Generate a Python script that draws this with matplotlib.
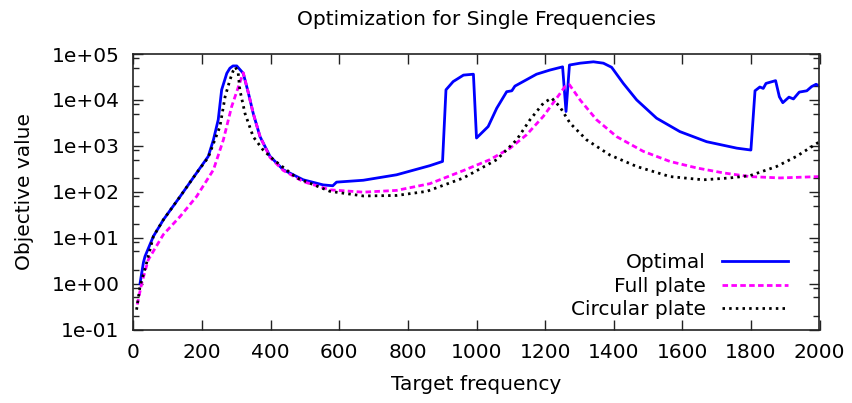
import numpy as np
import matplotlib
matplotlib.use('Agg')
import matplotlib.pyplot as plt
from matplotlib.ticker import LogLocator, FixedLocator, NullFormatter

# values
opt_f = [19, 29, 33.5, 58, 87, 136, 184, 218, 233, 247, 257, 272, 281, 290, 301, 320, 335, 349, 369, 398,
         437, 495, 553, 581, 592, 670, 767, 864, 901, 911, 932, 962, 991, 1000, 1034, 1059, 1088, 1103,
         1112, 1136, 1175, 1214, 1251, 1261, 1271, 1302, 1341, 1370, 1394, 1428, 1467, 1525, 1593, 1671,
         1759, 1800, 1812, 1826, 1836, 1844, 1872, 1883, 1893, 1911, 1924, 1941, 1963, 1977, 1990, 2000]
opt_v = [1.0, 2.9, 3.9, 10.7, 24.5, 79, 257, 590, 1350, 3700, 16600, 38000, 49000, 55000, 55000, 38000,
         14100, 5100, 1580, 590, 300, 182, 141, 135, 162, 178, 234, 370, 457, 16600, 25100, 34700, 36300,
         1480, 2630, 6600, 15100, 15800, 20000, 25100, 36300, 44700, 52500, 5600, 57500, 63100, 67600,
         63100, 51300, 22900, 10000, 4000, 2040, 1230, 890, 810, 15800, 19100, 17800, 22900, 26300, 11700,
         8700, 11500, 10500, 14800, 15800, 19500, 21900, 20000]

full_f = [11, 24, 43, 87, 136, 184, 233, 262, 286, 306, 320, 335, 349, 369, 398, 437, 495, 573, 670,
          767, 864, 962, 1039, 1098, 1146, 1195, 1234, 1258, 1271, 1302, 1350, 1409, 1486, 1564, 1642,
          1720, 1797, 1885, 2000]
full_v = [0.35, 1.02, 3.3, 11.7, 29, 79, 300, 1350, 7100, 19500, 39000, 14100, 5100, 1580, 560, 290, 166,
          110, 98, 107, 150, 290, 500, 890, 1740, 4400, 11000, 19500, 21400, 10000, 3700, 1580, 760, 457,
          330, 257, 214, 200, 214]

circ_f = [9, 19, 38, 58, 87, 136, 184, 218, 233, 252, 267, 281, 290, 297, 305, 310, 325, 349, 378, 408,
          476, 573, 670, 767, 855, 962, 1059, 1117, 1156, 1195, 1219, 1243, 1273, 1321, 1389, 1467, 1564,
          1661, 1739, 1797, 1875, 1933, 2000]
circ_v = [0.27, 0.87, 2.8, 10.7, 24.5, 79, 257, 560, 1120, 2630, 11700, 27000, 42000, 52000, 40000,
          16600, 5100, 1580, 810, 500, 200, 102, 81, 83, 102, 200, 500, 1350, 3700, 8500, 11000, 7100,
          3100, 1350, 630, 355, 214, 182, 200, 224, 355, 590, 1230]

xticks = [0, 200, 400, 600, 800, 1000, 1200, 1400, 1600, 1800, 2000]
yticks = [1e-1, 1e0, 1e1, 1e2, 1e3, 1e4, 1e5]
ylabels = ['1e-01', '1e+00', '1e+01', '1e+02', '1e+03', '1e+04', '1e+05']

plt.rcParams['font.family'] = ['DejaVu Sans']
fs = 14.5

fig = plt.figure(figsize=(8.53, 4.03), dpi=100)
ax = fig.add_axes([133.5/853, 73.5/403, 686/853, 275.5/403])

ax.plot(opt_f, opt_v, color='#0000ff', lw=2.0, label='Optimal')
ax.plot(full_f, full_v, color='#ff00ff', lw=2.0, ls=(0, (2.0, 1.2)), label='Full plate')
ax.plot(circ_f, circ_v, color='black', lw=2.0, ls=(0, (0.9, 1.5)), label='Circular plate')

ax.set_yscale('log')
ax.set_xlim(0, 2000)
ax.set_ylim(1e-1, 1e5)
ax.set_xticks(xticks)
ax.set_xticklabels([str(t) for t in xticks], fontsize=fs)
ax.yaxis.set_major_locator(FixedLocator(yticks))
ax.set_yticklabels(ylabels, fontsize=fs)
ax.yaxis.set_minor_locator(LogLocator(base=10, subs=(2, 5, 8)))
ax.yaxis.set_minor_formatter(NullFormatter())
ax.tick_params(which='both', direction='in', top=True, right=True, width=1, colors='#222222',
               labelcolor='black')
ax.tick_params(which='major', length=7, pad=10)
ax.tick_params(which='minor', length=4)
for s in ax.spines.values():
    s.set_linewidth(1.2)
    s.set_color('#222222')

ax.set_xlabel('Target frequency', fontsize=fs, labelpad=9)
ax.set_ylabel('Objective value', fontsize=fs, labelpad=13)
ax.set_title('Optimization for Single Frequencies', fontsize=fs, pad=21)

ax.legend(loc='lower right', bbox_to_anchor=(0.975, -0.013), frameon=False, markerfirst=False,
          fontsize=fs, handlelength=3.3, handletextpad=0.8, labelspacing=0.22, borderpad=0.2)

plt.savefig('out.png', dpi=100)
